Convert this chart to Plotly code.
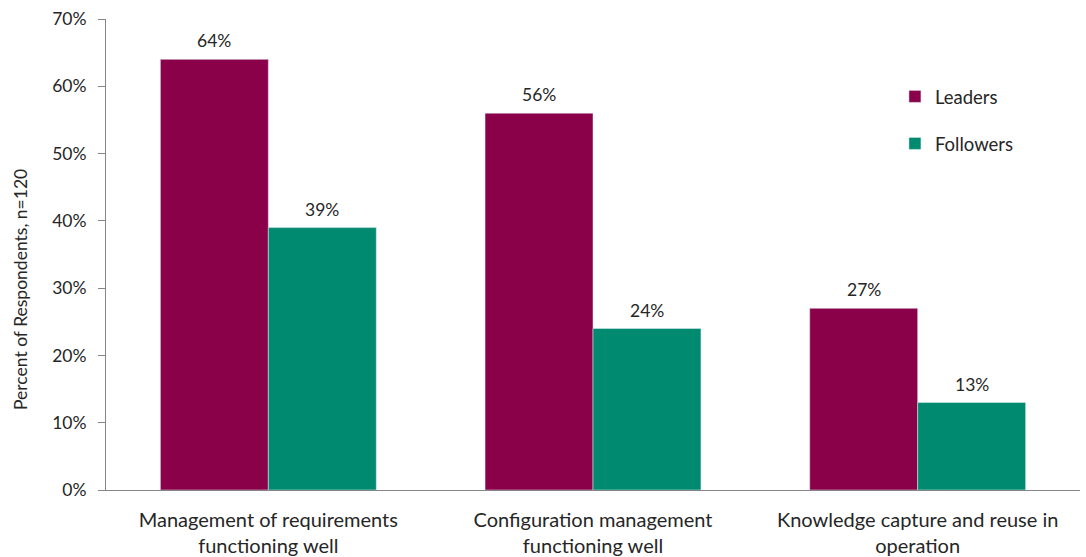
import plotly.graph_objects as go

categories = [
    "Management of requirements<br>functioning well",
    "Configuration management<br>functioning well",
    "Knowledge capture and reuse in<br>operation",
]
leaders = [64, 56, 27]
followers = [39, 24, 13]
y_ticks = [0, 10, 20, 30, 40, 50, 60, 70]

LEADER_COLOR = "#8A0049"
FOLLOWER_COLOR = "#008A70"
TEXT_COLOR = "#262626"
AXIS_COLOR = "#868686"
FONT = "Lato, 'Open Sans', sans-serif"

W, H = 1086, 557
M_L, M_R, M_T, M_B = 106, 6, 19, 67
PLOT_W = W - M_L - M_R
PLOT_H = H - M_T - M_B

x_pos = list(range(len(categories)))
bargap = 0.335
bar_w = (1 - bargap) / 2

fig = go.Figure()
fig.add_trace(go.Bar(
    x=x_pos, y=leaders, name="Leaders", marker_color=LEADER_COLOR,
    legendgroup="a",
))
fig.add_trace(go.Bar(
    x=x_pos, y=followers, name="Followers", marker_color=FOLLOWER_COLOR,
    legendgroup="b",
))

# value labels above each bar
annotations = []
for i in x_pos:
    for val, off in ((leaders[i], -bar_w / 2), (followers[i], bar_w / 2)):
        annotations.append(dict(
            x=i + off, y=val, xref="x", yref="y", text=f"{val}%",
            showarrow=False, yanchor="bottom", yshift=6,
            font=dict(size=17.5, color=TEXT_COLOR, family=FONT),
        ))

# rotated y-axis title
annotations.append(dict(
    x=(20 - M_L) / PLOT_W, y=(H - M_B - 290) / PLOT_H, xref="paper", yref="paper",
    text="Percent of Respondents, n=120", textangle=-90, showarrow=False,
    xanchor="center", yanchor="middle",
    font=dict(size=17.5, color=TEXT_COLOR, family=FONT),
))

fig.update_layout(
    width=W, height=H,
    margin=dict(l=M_L, r=M_R, t=M_T, b=M_B),
    paper_bgcolor="white", plot_bgcolor="white",
    barmode="group", bargap=bargap, bargroupgap=0,
    font=dict(family=FONT, size=16, color=TEXT_COLOR),
    showlegend=True,
    legend=dict(
        x=0.81, y=0.875, xanchor="left", yanchor="top",
        tracegroupgap=20, traceorder="grouped",
        font=dict(size=18.5, color=TEXT_COLOR, family=FONT),
        itemwidth=30, bgcolor="rgba(0,0,0,0)",
    ),
    annotations=annotations,
    xaxis=dict(
        range=[-0.5, 2.5], tickvals=x_pos, ticktext=categories,
        showline=True, linecolor=AXIS_COLOR, linewidth=1,
        ticks="", showgrid=False, zeroline=False, automargin=False,
        ticklabelstandoff=12,
        tickfont=dict(size=20, color=TEXT_COLOR, family=FONT),
    ),
    yaxis=dict(
        range=[0, 70], tickvals=y_ticks, ticktext=[f"{v}%" for v in y_ticks],
        showline=True, linecolor=AXIS_COLOR, linewidth=1,
        ticks="outside", ticklen=7, tickcolor=AXIS_COLOR,
        showgrid=False, zeroline=False, ticklabelstandoff=8, automargin=False,
        tickfont=dict(size=17.5, color=TEXT_COLOR, family=FONT),
    ),
)

fig.write_html("out.html")
